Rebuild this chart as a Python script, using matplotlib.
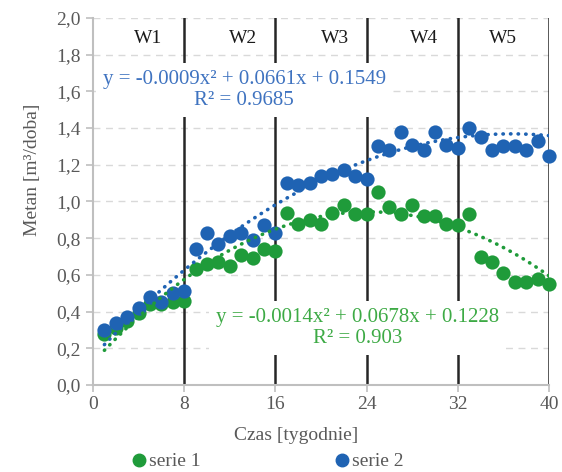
import numpy as np
import matplotlib
matplotlib.use("Agg")
import matplotlib.pyplot as plt
from matplotlib.lines import Line2D

plt.rcParams['font.family'] = ['Liberation Serif', 'DejaVu Serif']

# dane: tygodnie 1..40
tydzien = np.arange(1, 41)
serie_1 = [0.28, 0.31, 0.35, 0.39, 0.44, 0.44, 0.45, 0.46,
           0.63, 0.66, 0.67, 0.65, 0.71, 0.69, 0.74, 0.73,
           0.94, 0.88, 0.90, 0.88, 0.94, 0.98, 0.93, 0.93,
           1.05, 0.97, 0.93, 0.98, 0.92, 0.92, 0.88, 0.87,
           0.93, 0.70, 0.67, 0.61, 0.56, 0.56, 0.58, 0.55]
serie_2 = [0.30, 0.34, 0.37, 0.42, 0.48, 0.45, 0.50, 0.51,
           0.74, 0.83, 0.77, 0.81, 0.83, 0.79, 0.87, 0.83,
           1.10, 1.09, 1.10, 1.14, 1.15, 1.17, 1.14, 1.12,
           1.30, 1.28, 1.38, 1.31, 1.28, 1.38, 1.31, 1.29,
           1.40, 1.35, 1.28, 1.30, 1.30, 1.28, 1.33, 1.25]

# wspolczynniki linii trendu (wielomian 2 st.)
trend_1 = [-0.0014, 0.0678, 0.1228]
trend_2 = [-0.0009, 0.0661, 0.1549]
r2_1 = 0.903
r2_2 = 0.9685

granice = [8, 16, 24, 32, 40]
etykiety_w = ['W1', 'W2', 'W3', 'W4', 'W5']
poz_w = [4.8, 13.2, 21.2, 29.0, 36.0]

ziel = '#1F9B3A'
nieb = '#1F63B3'
ziel_txt = '#3DAA45'
nieb_txt = '#3F73C0'

fig = plt.figure(figsize=(5.62, 4.72), dpi=100)
ax = fig.add_axes([0.1655, 0.1843, 0.8114, 0.7776])

ax.set_xlim(0, 40)
ax.set_ylim(0, 2.0)
ax.set_xticks(range(0, 41, 8))
ax.set_yticks(np.arange(0, 2.01, 0.2))
ax.set_yticklabels([f"{v:.1f}".replace('.', ',') for v in np.arange(0, 2.01, 0.2)])
ax.tick_params(axis='both', labelsize=14, colors='#BFBFBF', labelcolor='#595959',
               length=5, width=1.2, direction='out')
ax.tick_params(axis='y', pad=4)
ax.tick_params(axis='x', pad=3)

for s in ['top', 'right']:
    ax.spines[s].set_visible(False)
for s in ['left', 'bottom']:
    ax.spines[s].set_color('#BFBFBF')
    ax.spines[s].set_linewidth(1.5)

ax.yaxis.grid(True, linestyle=(0, (5, 4)), color='#D9D9D9', linewidth=1.0, zorder=0)
ax.set_axisbelow(True)

# granice okresow
for g in granice:
    ax.axvline(g, color='#262626', linewidth=1.8, zorder=2)
for lab, px in zip(etykiety_w, poz_w):
    ax.text(px, 1.89, lab, ha='center', va='center', fontsize=14, color='#1A1A1A')

# punkty pomiarowe
ax.scatter(tydzien, serie_1, s=105, color=ziel, zorder=5, linewidths=0, clip_on=False)
ax.scatter(tydzien, serie_2, s=105, color=nieb, zorder=6, linewidths=0, clip_on=False)

# linie trendu
xt = np.linspace(1, 40, 300)
ax.plot(xt, np.polyval(trend_1, xt), color=ziel, linewidth=2.6,
        linestyle=(0, (0.1, 2.0)), dash_capstyle='round', zorder=7)
ax.plot(xt, np.polyval(trend_2, xt), color=nieb, linewidth=2.6,
        linestyle=(0, (0.1, 2.0)), dash_capstyle='round', zorder=7)

def rownanie(c, r2):
    return (f"y = {c[0]:.4f}x² + {c[1]:.4f}x + {c[2]:.4f}\n"
            f"R² = {r2}")

ax.text(13.25, 1.608, rownanie(trend_2, r2_2), ha='center', va='center',
        multialignment='center', fontsize=15, color=nieb_txt, zorder=4,
        linespacing=1.15, clip_on=False,
        bbox=dict(facecolor='white', edgecolor='none', pad=5))
ax.text(23.2, 0.31, rownanie(trend_1, r2_1), ha='center', va='center',
        multialignment='center', fontsize=15, color=ziel_txt, zorder=4,
        linespacing=1.15,
        bbox=dict(facecolor='white', edgecolor='none', pad=5))

fig.text(0.058, 0.64, 'Metan [m³/doba]', rotation=90, ha='center', va='center',
         fontsize=14, color='#595959')
fig.text(0.527, 0.078, 'Czas [tygodnie]', ha='center', va='center',
         fontsize=14, color='#595959')

uchwyty = [Line2D([], [], marker='o', linestyle='none', color=ziel, markersize=9),
           Line2D([], [], marker='o', linestyle='none', color=nieb, markersize=9)]
leg = fig.legend(uchwyty, ['serie 1', 'serie 2'], loc='center', ncol=2,
                 bbox_to_anchor=(0.474, 0.022), frameon=False, fontsize=14,
                 handletextpad=0.0, columnspacing=6.8, handlelength=1.0)
for t in leg.get_texts():
    t.set_color('#595959')

fig.savefig('out.png', dpi=100)
